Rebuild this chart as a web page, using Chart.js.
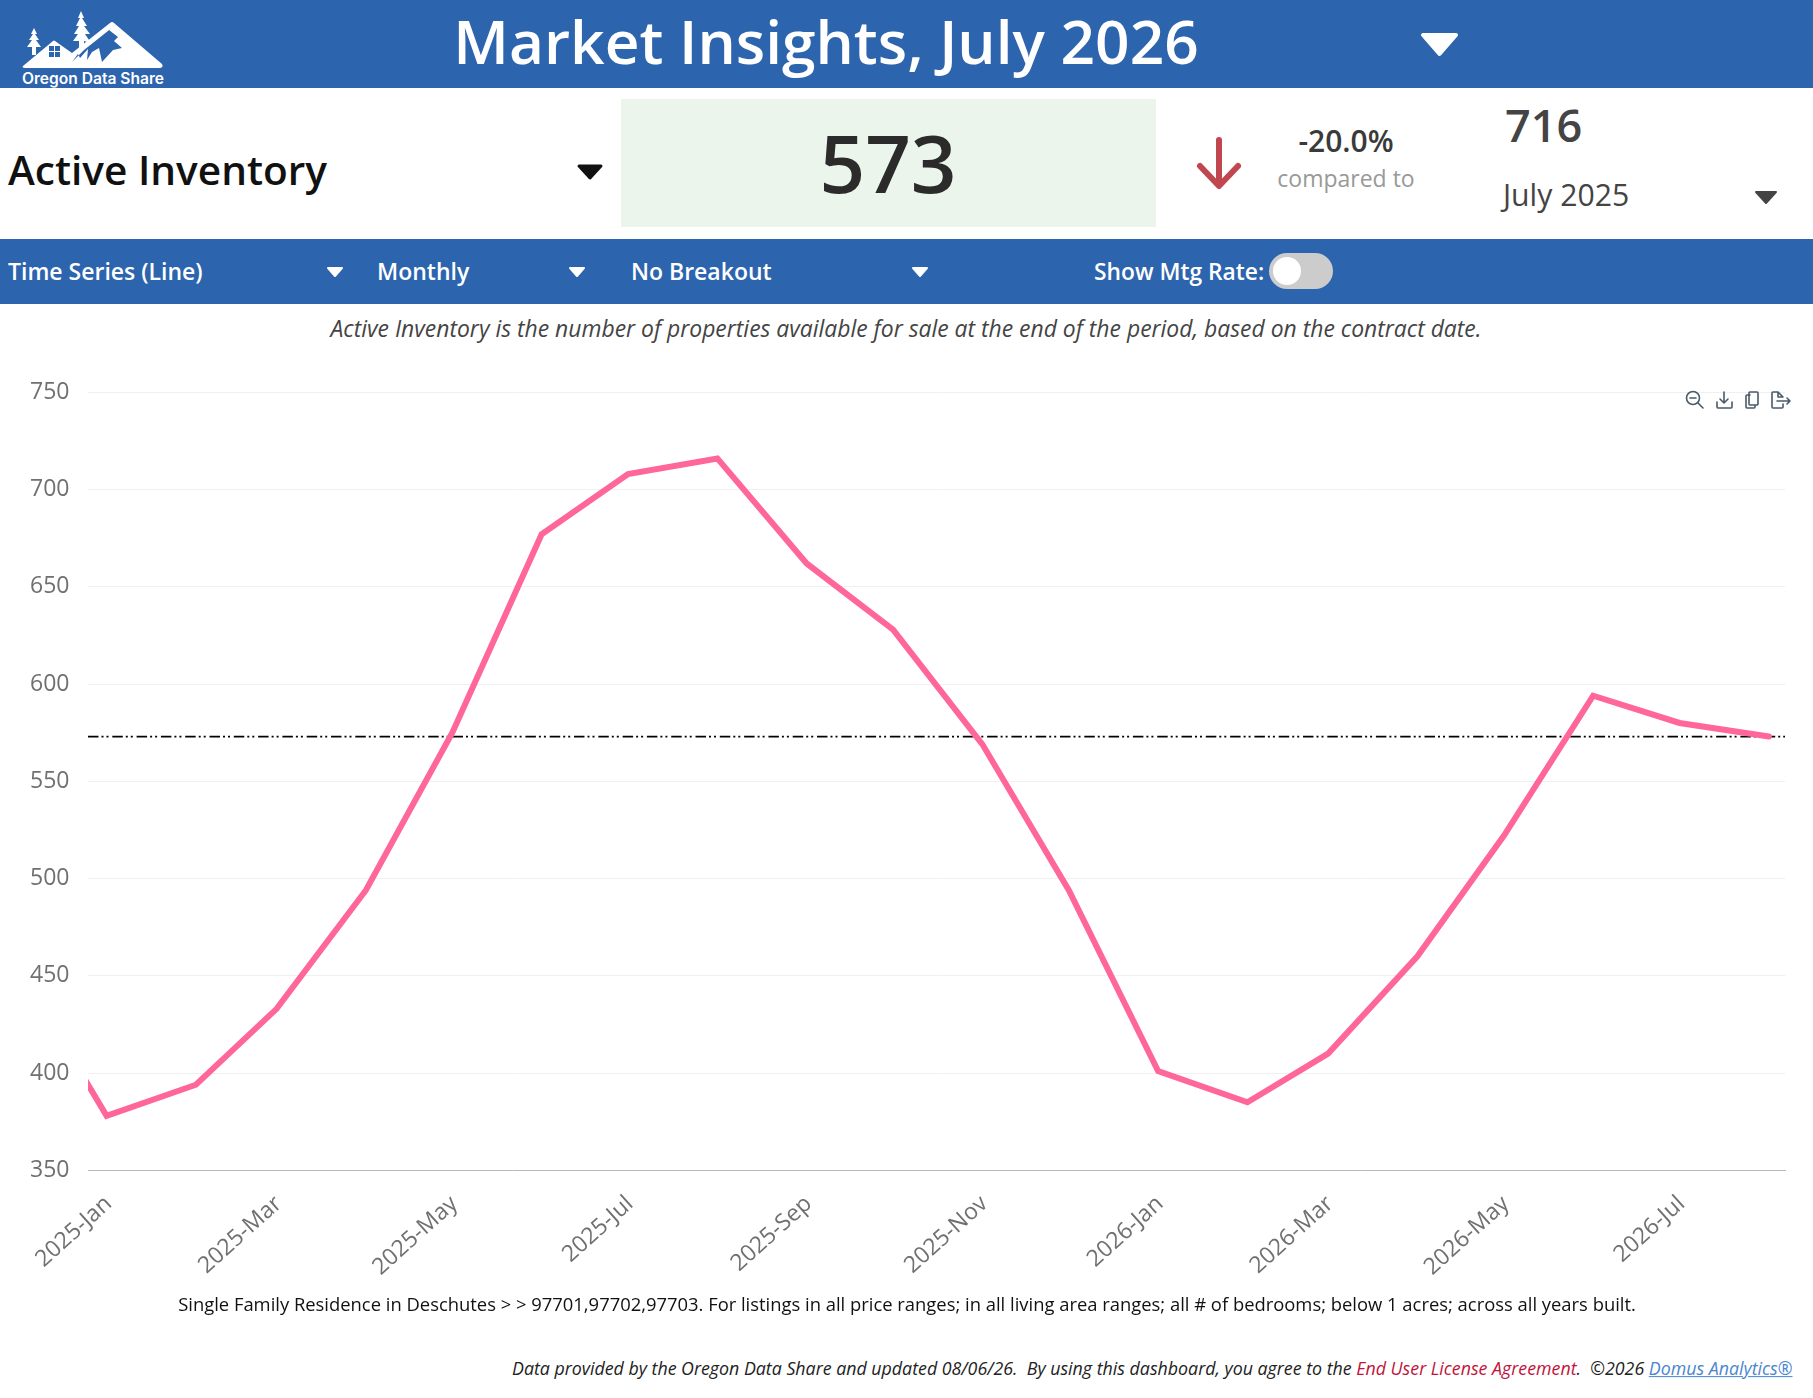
<!DOCTYPE html>
<html>
<head>
<meta charset="utf-8">
<title>Market Insights</title>
<script src="https://cdn.jsdelivr.net/npm/chart.js@4"></script>
<style>
html,body{margin:0;padding:0;background:#fff;}
body{width:1813px;height:1398px;position:relative;overflow:hidden;font-family:"Open Sans",sans-serif;}
.band{position:absolute;left:0;width:1813px;background:#2d64ae;}
.t{position:absolute;white-space:pre;line-height:1;}
.c{transform:translate(-50%,-50%);}
.m{transform:translateY(-50%);}
.w{color:#fff;font-size:23px;font-weight:600;}
svg{position:absolute;}
#chartBox{position:absolute;left:0;top:380px;width:1813px;height:920px;}
</style>
</head>
<body>
<div class="band" style="top:0;height:88px"></div>
<div class="band" style="top:239px;height:65px"></div>
<div style="position:absolute;left:621px;top:99px;width:535px;height:128px;background:#ecf5ec"></div>

<!-- logo -->
<svg style="left:0;top:0" width="200" height="70" viewBox="0 0 200 70">
  <path fill="#fff" d="M23 66 L53 41 Q54 40 55 41 L72 53 L110 23 Q112 21 114 23 L162 64 Q164 68 159 68 L27 68 Q21 68 23 66Z"/>
  <path fill="#2d64ae" d="M72 62 L78 54 L80 58 L88 49 L87 60 L92 52 L99 48 L102 62 L113 50 L122 48 L114 41 L118 37 L109 30 L113 27 L84 50Z"/>
  <path fill="#fff" d="M34 28l3 6h-2l4 6h-3l5 7h-5v8h-4v-8h-5l5-7h-3l4-6h-2zM81 11l3 7h-2l5 8h-3l6 8h-5l6 9-7-2v8l-5 3v-11h-6l5-7h-4l5-8h-3l4-8h-2z"/>
  <path fill="#2d64ae" d="M49 46h5v5h-5zM55 46h5v5h-5zM49 52h5v5h-5zM55 52h5v5h-5z"/>
</svg>
<div class="t c" style="left:93px;top:78px;color:#fff;font:600 15.6px Inter,sans-serif">Oregon Data Share</div>

<div class="t c" style="left:826px;top:41px;color:#fff;font-size:60.4px;font-weight:600">Market Insights, July 2026</div>
<svg style="left:1420px;top:32px" width="40" height="26"><path fill="#fff" stroke="#fff" stroke-width="4" stroke-linejoin="round" d="M3 3H36L19.5 22Z"/></svg>

<div class="t m" style="left:8px;top:170px;color:#111;font-size:40.6px;font-weight:600">Active Inventory</div>
<svg style="left:575px;top:162px" width="30" height="20"><path fill="#111" stroke="#111" stroke-width="3" stroke-linejoin="round" d="M4 4H26L15 16Z"/></svg>

<div class="t c" style="left:888px;top:162px;color:#2b2b2b;font-size:80px;font-weight:600">573</div>

<svg style="left:1192px;top:134px" width="54" height="60"><path fill="none" stroke="#c0474f" stroke-width="6" stroke-linecap="round" stroke-linejoin="round" d="M27 6V51M8 32L27 52L46 32"/></svg>

<div class="t c" style="left:1346px;top:141px;color:#3a3a3a;font-size:30px;font-weight:600">-20.0%</div>
<div class="t c" style="left:1346px;top:178px;color:#999;font-size:23px">compared to</div>
<div class="t m" style="left:1505px;top:124px;color:#444;font-size:45px;font-weight:600">716</div>
<div class="t m" style="left:1503px;top:195px;color:#444;font-size:30.2px;font-weight:500">July 2025</div>
<svg style="left:1753px;top:189px" width="26" height="18"><path fill="#444" stroke="#444" stroke-width="2" stroke-linejoin="round" d="M3 3H23L13 14Z"/></svg>

<div class="t m w" style="left:8px;top:271px">Time Series (Line)</div>
<svg style="left:325px;top:264px" width="20" height="16"><path fill="#fff" stroke="#fff" stroke-width="2" stroke-linejoin="round" d="M3 4H17L10 12Z"/></svg>
<div class="t m w" style="left:377px;top:271px">Monthly</div>
<svg style="left:567px;top:264px" width="20" height="16"><path fill="#fff" stroke="#fff" stroke-width="2" stroke-linejoin="round" d="M3 4H17L10 12Z"/></svg>
<div class="t m w" style="left:631px;top:271px">No Breakout</div>
<svg style="left:910px;top:264px" width="20" height="16"><path fill="#fff" stroke="#fff" stroke-width="2" stroke-linejoin="round" d="M3 4H17L10 12Z"/></svg>
<div class="t m w" style="left:1094px;top:272px;font-size:22.8px">Show Mtg Rate:</div>
<div style="position:absolute;left:1269px;top:253px;width:64px;height:36px;border-radius:18px;background:#ccc"></div>
<div style="position:absolute;left:1273px;top:257px;width:28px;height:28px;border-radius:14px;background:#fff"></div>

<div class="t c" style="left:906px;top:329px;color:#444;font-size:22.9px;font-style:italic">Active Inventory is the number of properties available for sale at the end of the period, based on the contract date.</div>

<div id="chartBox"><canvas id="myChart"></canvas></div>

<!-- toolbar icons -->
<svg style="left:1683px;top:389px" width="112" height="24" fill="none" stroke="#4a5a6a" stroke-width="1.6" stroke-linejoin="round" stroke-linecap="round">
  <circle cx="10" cy="9" r="6.5"/><path d="M7 9h6M15 14l5 5"/>
  <path d="M41 3v11M37 10l4 4 4-4M34 13v5q0 1 1 1h13q1 0 1-1v-5"/>
  <path d="M67 6h-3q-1 0-1 1v11q0 1 1 1h7q1 0 1-1v-2M67 3h7q1 0 1 1v11q0 1-1 1h-7q-1 0-1-1v-11q0-1 1-1z"/>
  <path d="M100 8l-5-5h-5q-1 0-1 1v14q0 1 1 1h9q1 0 1-1v-3M95 3v5h5M94 12h13M104 9l3 3-3 3"/>
</svg>

<div class="t c" style="left:907px;top:1304px;color:#111;font-size:18.4px;font-weight:500">Single Family Residence in Deschutes &gt; &gt; 97701,97702,97703. For listings in all price ranges; in all living area ranges; all # of bedrooms; below 1 acres; across all years built.</div>
<div class="t m" style="left:512px;top:1369px;color:#222;font-size:17.8px;font-style:italic">Data provided by the Oregon Data Share and updated 08/06/26.  By using this dashboard, you agree to the <span style="color:#c0143c">End User License Agreement</span>.  ©2026 <span style="color:#4a86cf;text-decoration:underline">Domus Analytics®</span></div>

<script>
// monthly series
const months = ['2024-12-01','2025-01-01','2025-02-01','2025-03-01','2025-04-01','2025-05-01','2025-06-01','2025-07-01','2025-08-01','2025-09-01','2025-10-01','2025-11-01','2025-12-01','2026-01-01','2026-02-01','2026-03-01','2026-04-01','2026-05-01','2026-06-01','2026-07-01','2026-08-01']
const activeInventory = [455,378,394,433,494,575,677,708,716,662,628,569,494,401,385,410,460,522,594,580,573]
const currentValue = 573

const tickMonths = ['2025-01-01','2025-03-01','2025-05-01','2025-07-01','2025-09-01','2025-11-01','2026-01-01','2026-03-01','2026-05-01','2026-07-01']
const tickLabels = ['2025-Jan','2025-Mar','2025-May','2025-Jul','2025-Sep','2025-Nov','2026-Jan','2026-Mar','2026-May','2026-Jul']

// days since first tick, keeps the uneven month spacing
const toDay = d => (Date.parse(d) - Date.parse('2025-01-01')) / 86400000
const xMin = -6.46
const xMax = 582.6

const ctx = document.getElementById('myChart').getContext('2d')
new Chart(ctx, {
    type: 'line',
    data: {
        datasets: [
            {
                label: 'Active Inventory',
                data: months.map((m, i) => ({x: toDay(m), y: activeInventory[i]})),
                borderColor: '#ff6699',
                borderWidth: 6,
                borderJoinStyle: 'miter',
                borderCapStyle: 'round',
                pointRadius: 0,
                tension: 0,
                order: 0,
            },
            {
                label: 'Current',
                data: [{x: xMin, y: currentValue}, {x: xMax, y: currentValue}],
                borderColor: '#000',
                borderWidth: 1.8,
                borderDash: [10.5, 3, 2, 3, 2, 3.8],
                pointRadius: 0,
                order: 1,
            },
        ],
    },
    options: {
        responsive: true,
        maintainAspectRatio: false,
        animation: false,
        layout: {padding: {top: 12.3, right: 28, left: 0, bottom: 0}},
        plugins: {legend: {display: false}, tooltip: {enabled: false}},
        scales: {
            x: {
                type: 'linear',
                min: xMin,
                max: xMax,
                afterBuildTicks: s => { s.ticks = tickMonths.map(m => ({value: toDay(m)})) },
                afterFit: s => { s.height = 129.7 },
                grid: {display: false},
                border: {display: true, color: '#b8b8b8', width: 1},
                ticks: {
                    autoSkip: false,
                    maxRotation: 42,
                    minRotation: 42,
                    padding: 12,
                    labelOffset: 2,
                    color: '#707070',
                    font: {family: 'Open Sans', size: 23},
                    callback: (v, i) => tickLabels[i],
                },
            },
            y: {
                min: 350,
                max: 750,
                afterFit: s => { s.width = 88; s.paddingTop = 0; s.paddingBottom = 0 },
                grid: {color: '#f0f0f0', lineWidth: 1, drawTicks: false},
                border: {display: false},
                ticks: {
                    stepSize: 50,
                    padding: 18.5,
                    color: '#707070',
                    font: {family: 'Open Sans', size: 23},
                },
            },
        },
    },
})
</script>
</body>
</html>
